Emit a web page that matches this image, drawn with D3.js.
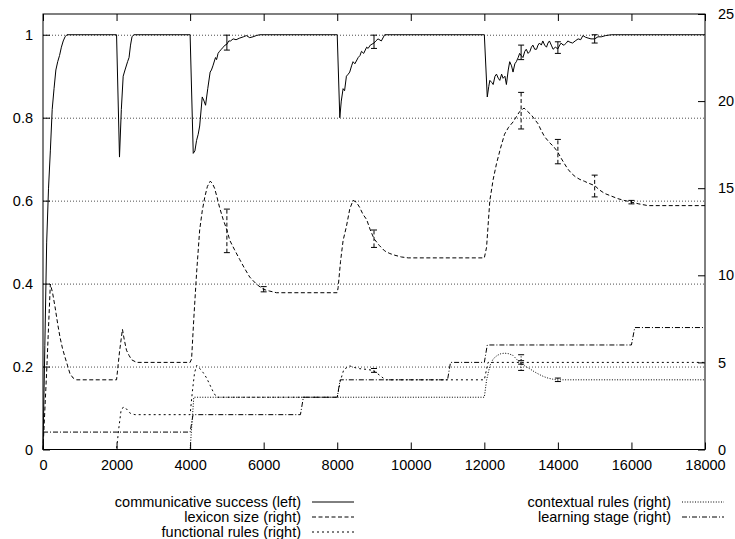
<!DOCTYPE html>
<html>
<head>
<meta charset="utf-8">
<script src="https://cdn.jsdelivr.net/npm/d3@7"></script>
<style>
  body { margin: 0; background: #fff; }
  svg { display: block; }
  text { font-family: "Liberation Sans", Arial, Helvetica, sans-serif; font-size: 14.5px; fill: #000; }
  .tickAxis line { stroke: #000; stroke-width: 1; }
  .tickAxis path { display: none; }
  .grid line { stroke: #000; stroke-width: 0.7; stroke-dasharray: 1,2; }
  .grid path { display: none; }
  .series { fill: none; stroke: #000; stroke-width: 1; }
</style>
</head>
<body>
<div id="chart" style="width:735px;height:539px;"><svg width="735" height="539"></svg></div>
<script>

// x ticks, left ticks (communicative success), right ticks (counts)
const xTicks = [0, 2000, 4000, 6000, 8000, 10000, 12000, 14000, 16000, 18000];
const leftTicks = [0, 0.2, 0.4, 0.6, 0.8, 1];
const rightTicks = [0, 5, 10, 15, 20, 25];

// communicative success (left axis) [games, value]
const commSuccess = [
    [0,0],[50,0.25],[100,0.5],[150,0.63],[200,0.72],[250,0.82],[300,0.87],[350,0.915],[400,0.935],
    [450,0.95],[500,0.97],[550,0.985],[600,0.995],[650,1],[2000,1],
    [2080,0.705],[2130,0.82],[2180,0.9],[2230,0.915],[2300,0.935],[2340,0.945],[2380,0.975],[2420,0.995],[2470,1],[4000,1],
    [4085,0.714],[4130,0.72],[4175,0.745],[4220,0.76],[4260,0.78],[4330,0.85],[4380,0.84],[4420,0.83],[4480,0.87],
    [4545,0.91],[4580,0.915],[4620,0.925],[4690,0.945],[4720,0.94],[4760,0.955],[4800,0.96],[4850,0.965],[4900,0.97],
    [4950,0.975],[5000,0.977],[5050,0.985],[5100,0.985],[5170,0.99],[5250,0.988],[5350,0.992],[5450,0.995],[5530,0.998],
    [5620,0.993],[5710,0.995],[5800,0.998],[5890,1],[8000,1],
    [8070,0.8],[8110,0.84],[8160,0.87],[8200,0.865],[8250,0.9],[8300,0.905],[8340,0.91],[8390,0.925],[8430,0.935],
    [8480,0.93],[8570,0.945],[8620,0.95],[8660,0.96],[8720,0.955],[8800,0.97],[8840,0.967],[8900,0.975],[9000,0.98],
    [9050,0.985],[9110,0.99],[9200,0.985],[9290,1],[12000,1],
    [12080,0.85],[12120,0.875],[12150,0.89],[12200,0.885],[12240,0.88],[12290,0.9],[12330,0.905],[12380,0.895],
    [12420,0.89],[12470,0.905],[12510,0.895],[12560,0.9],[12600,0.88],[12650,0.915],[12690,0.935],[12740,0.925],
    [12780,0.91],[12830,0.93],[12870,0.935],[12920,0.945],[12960,0.955],[13000,0.95],[13050,0.945],[13100,0.96],
    [13140,0.965],[13190,0.955],[13240,0.96],[13280,0.97],[13320,0.975],[13370,0.965],[13420,0.965],[13460,0.975],
    [13500,0.98],[13550,0.975],[13590,0.985],[13640,0.975],[13690,0.97],[13730,0.98],[13770,0.985],[13820,0.975],
    [13870,0.965],[13930,0.97],[14000,0.966],[14050,0.975],[14090,0.98],[14140,0.975],[14180,0.976],[14230,0.98],
    [14270,0.985],[14330,0.982],[14400,0.98],[14470,0.985],[14550,0.99],[14620,0.988],[14680,0.998],[14750,0.994],
    [14820,0.992],[14900,0.99],[15000,0.99],[15090,0.995],[15180,0.995],[15300,0.998],[15450,1],[18000,1]
];
const commSuccessErr = [[5000,0.963,0.999],[9000,0.967,0.999],[13000,0.94,0.975],[14000,0.955,0.983],[15000,0.98,1.0]];

// lexicon size (right axis)
const lexiconSize = [
    [0,0],[100,4.5],[200,9.5],[260,9.0],[326,8.2],[400,7.2],[462,6.45],[530,5.8],[598,5.3],[670,4.8],[734,4.35],
    [820,4.1],[915,4.0],[2000,4.0],
    [2080,5.6],[2160,6.9],[2210,6.3],[2270,5.7],[2340,5.4],[2410,5.15],[2545,5.0],[4000,5.0],
    [4040,5.2],[4100,7.5],[4175,10.1],[4260,12.6],[4330,13.7],[4400,14.5],[4470,15.1],[4545,15.4],[4600,15.3],
    [4665,15.0],[4730,14.5],[4800,13.9],[4900,13.2],[5000,12.6],[5080,12.0],[5200,11.5],[5350,10.9],[5480,10.4],
    [5620,9.9],[5800,9.5],[5985,9.2],[6150,9.1],[6350,9.0],[8000,9.0],
    [8025,9.3],[8090,10.8],[8160,12.0],[8250,12.8],[8340,13.8],[8430,14.3],[8520,14.2],[8610,13.9],[8700,13.5],
    [8800,13.2],[8900,12.6],[9000,12.1],[9150,11.7],[9290,11.4],[9430,11.25],[9570,11.15],[9750,11.05],[9930,11.0],[12000,11.0],
    [12060,11.6],[12100,12.8],[12150,14.3],[12240,15.5],[12330,16.4],[12440,17.3],[12550,18.1],[12660,18.5],
    [12780,18.8],[12870,19.1],[12960,19.4],[13080,19.6],[13180,19.4],[13280,19.2],[13370,18.95],[13460,18.7],
    [13550,18.3],[13640,17.95],[13780,17.6],[13880,17.4],[13990,17.1],[14080,16.75],[14180,16.4],[14270,16.1],
    [14370,15.85],[14480,15.65],[14600,15.5],[14720,15.4],[14820,15.3],[15000,15.15],[15130,14.9],[15270,14.7],
    [15450,14.55],[15630,14.4],[15800,14.3],[16000,14.2],[16200,14.1],[16450,14.0],[18000,14.0]
];
const lexiconErr = [[5000,11.3,13.8],[6000,9.05,9.35],[9000,11.6,12.6],[13000,18.4,20.5],[14000,16.4,17.8],[15000,14.5,15.75],[16000,14.1,14.3]];

// functional rules (right axis)
const functionalRules = [
    [0,0],[2000,0],[2060,1.2],[2120,2.2],[2180,2.43],[2240,2.4],[2300,2.25],[2360,2.1],[2410,2.05],[2500,2.0],[4000,2.0],
    [4060,3.3],[4120,4.4],[4180,4.83],[4260,4.65],[4360,4.4],[4450,4.1],[4540,3.7],[4630,3.3],[4720,3.0],[8000,3.0],
    [8080,3.9],[8180,4.6],[8340,4.8],[8480,4.7],[8610,4.64],[8800,4.6],[8975,4.54],[9070,4.4],[9160,4.25],[9250,4.1],
    [9340,4.0],[12000,4.0],[12100,5.0],[18000,5.0]
];
const functionalErr = [[9000,4.43,4.65],[13000,4.9,5.1]];

// contextual rules (right axis)
const contextualRules = [
    [0,0],[4000,0],[4100,3.0],[12000,3.0],[12060,3.97],[12150,4.8],[12240,5.2],[12350,5.4],[12450,5.5],[12550,5.53],
    [12660,5.5],[12780,5.4],[12870,5.2],[12960,5.0],[13100,4.8],[13230,4.64],[13370,4.45],[13500,4.3],[13620,4.18],
    [13730,4.1],[13850,4.04],[13960,4.0],[18000,4.0]
];
const contextualErr = [[13000,4.54,5.44],[14000,3.9,4.1]];

// learning stage (right axis)
const learningStage = [
    [0,1],[4000,1],[4080,2],[7000,2],[7080,3],[8000,3],[8080,4],[11000,4],[11080,5],[12000,5],
    [12080,6],[16000,6],[16090,7],[18000,7]
];

const legendLeft = ["communicative success (left)", "lexicon size (right)", "functional rules (right)"];
const legendRight = ["contextual rules (right)", "learning stage (right)"];

function makeChart() {

    /**********************
    ***** BASIC SETUP *****
    **********************/

    const width = 735;
    const height = 539;
    const margin = {top: 14, left: 43, right: 30, bottom: 89.5};

    const plotWidth = width - margin.left - margin.right;
    const plotHeight = height - margin.top - margin.bottom;

    const svg = d3.select("#chart").select("svg");

    svg.append("rect")
        .attr("width", width)
        .attr("height", height)
        .attr("fill", "#fff");

    /***********************
    ***** X & Y SCALES *****
    ***********************/

    const xScale = d3.scaleLinear()
        .domain([0, 18000])
        .range([margin.left, margin.left + plotWidth]);

    const yLeft = d3.scaleLinear()
        .domain([0, 1.05])
        .range([margin.top + plotHeight, margin.top]);

    const yRight = d3.scaleLinear()
        .domain([0, 25])
        .range([margin.top + plotHeight, margin.top]);

    /*****************
    ***** GRID *****
    *****************/

    svg.append("g")
        .attr("class", "grid")
        .attr("transform", `translate(${margin.left}, 0)`)
        .call(d3.axisLeft(yLeft)
            .tickValues(leftTicks.slice(1))
            .tickSize(-plotWidth)
            .tickFormat(""));

    /*****************
    ***** AXES *****
    *****************/

    svg.append("g")
        .attr("class", "tickAxis")
        .attr("transform", `translate(0, ${margin.top + plotHeight})`)
        .call(d3.axisBottom(xScale)
            .tickValues(xTicks)
            .tickSize(-7)
            .tickPadding(10)
            .tickFormat(d3.format("d")));

    svg.append("g")
        .attr("class", "tickAxis")
        .attr("transform", `translate(0, ${margin.top})`)
        .call(d3.axisTop(xScale)
            .tickValues(xTicks)
            .tickSize(-7)
            .tickFormat(""));

    svg.append("g")
        .attr("class", "tickAxis")
        .attr("transform", `translate(${margin.left}, 0)`)
        .call(d3.axisLeft(yLeft)
            .tickValues(leftTicks)
            .tickSize(-7)
            .tickPadding(10)
            .tickFormat(d3.format("~g")));

    svg.append("g")
        .attr("class", "tickAxis")
        .attr("transform", `translate(${margin.left + plotWidth}, 0)`)
        .call(d3.axisRight(yRight)
            .tickValues(rightTicks)
            .tickSize(-7)
            .tickPadding(13)
            .tickFormat(d3.format("d")));

    // plot border
    svg.append("rect")
        .attr("x", margin.left)
        .attr("y", margin.top)
        .attr("width", plotWidth)
        .attr("height", plotHeight)
        .attr("fill", "none")
        .attr("stroke", "#000")
        .attr("stroke-width", 1);

    /*****************
    ***** LINES *****
    *****************/

    const series = [
        {data: contextualRules, err: contextualErr, y: yRight, dash: "1,1.6"},
        {data: functionalRules, err: functionalErr, y: yRight, dash: "2,3"},
        {data: learningStage, err: [], y: yRight, dash: "5,2,1,2"},
        {data: lexiconSize, err: lexiconErr, y: yRight, dash: "4,2.5"},
        {data: commSuccess, err: commSuccessErr, y: yLeft, dash: null}
    ];

    const plot = svg.append("g").attr("id", "plot");

    series.forEach(s => {
        const line = d3.line()
            .x(d => xScale(d[0]))
            .y(d => s.y(d[1]));

        plot.append("path")
            .datum(s.data)
            .attr("class", "series")
            .attr("d", line)
            .attr("stroke-dasharray", s.dash);

        // error bars with small caps
        const bars = plot.selectAll(null)
            .data(s.err)
            .enter()
            .append("g");

        bars.append("line")
            .attr("class", "series")
            .attr("x1", d => xScale(d[0]))
            .attr("x2", d => xScale(d[0]))
            .attr("y1", d => s.y(d[1]))
            .attr("y2", d => s.y(d[2]))
            .attr("stroke-dasharray", s.dash);

        [1, 2].forEach(i => {
            bars.append("line")
                .attr("class", "series")
                .attr("x1", d => xScale(d[0]) - 3)
                .attr("x2", d => xScale(d[0]) + 3)
                .attr("y1", d => s.y(d[i]))
                .attr("y2", d => s.y(d[i]));
        });
    });

    /*****************
    ***** LEGEND *****
    *****************/

    const legend = svg.append("g").attr("id", "legend");
    const leftEntries = legendLeft.map((label, i) => ({label, col: 0, row: i, dash: [null, "4,2.5", "2,3"][i]}));
    const rightEntries = legendRight.map((label, i) => ({label, col: 1, row: i, dash: ["1,1.6", "5,2,1,2"][i]}));
    const colEnd = [301, 671];

    const entries = legend.selectAll(".entry")
        .data(leftEntries.concat(rightEntries))
        .enter()
        .append("g")
        .attr("class", "entry")
        .attr("transform", d => `translate(${colEnd[d.col]}, ${502 + d.row * 15})`);

    entries.append("text")
        .text(d => d.label)
        .attr("text-anchor", "end")
        .attr("dy", "0.35em");

    entries.append("line")
        .attr("class", "series")
        .attr("x1", 11)
        .attr("x2", 53)
        .attr("y1", 0)
        .attr("y2", 0)
        .attr("stroke-dasharray", d => d.dash);
}

makeChart();
</script>
</body>
</html>
